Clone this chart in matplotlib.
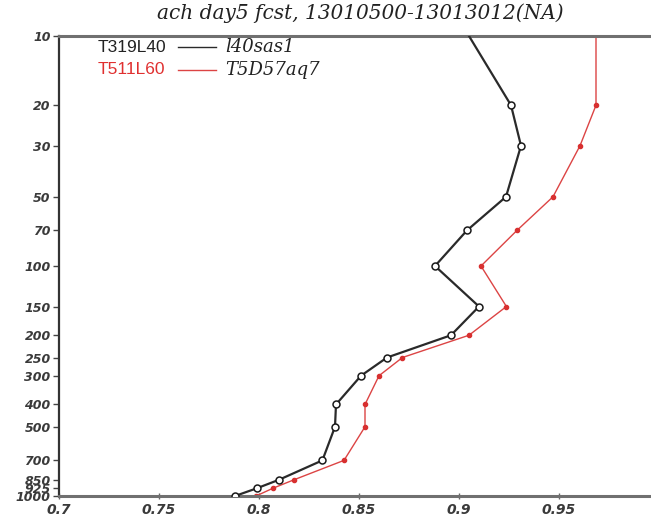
import matplotlib
matplotlib.use("Agg")
import matplotlib.pyplot as plt
from matplotlib.lines import Line2D

# pressure levels (hPa)
levels = [10, 20, 30, 50, 70, 100, 150, 200, 250, 300, 400, 500, 700, 850, 925, 1000]

# anomaly correlation, day 5 forecast
acc_l40sas1 = [0.905, 0.926, 0.931, 0.9235, 0.904, 0.888, 0.910, 0.896,
               0.864, 0.851, 0.8385, 0.838, 0.8317, 0.810, 0.799, 0.788]
acc_t5d57aq7 = [0.9685, 0.9685, 0.9605, 0.947, 0.929, 0.911, 0.9237, 0.905,
                0.8717, 0.860, 0.853, 0.853, 0.8425, 0.8175, 0.807, 0.7985]

xticks = [0.7, 0.75, 0.8, 0.85, 0.9, 0.95]
xtick_labels = ["0.7", "0.75", "0.8", "0.85", "0.9", "0.95"]

title = "ach day5 fcst, 13010500-13013012(NA)"

fig = plt.figure(figsize=(6.51, 5.19), dpi=100)
ax = fig.add_axes([59 / 651, 23 / 519, 600 / 651, 460 / 519])

# no marker at the top level, it sits on the frame
ax.plot(acc_l40sas1, levels, color="#2a2a2a", lw=1.6, marker="o", ms=5,
        mfc="white", mec="#1a1a1a", mew=1.1, markevery=slice(1, None), zorder=3)
ax.plot(acc_t5d57aq7, levels, color="#dc4444", lw=1.0, marker="o", ms=3.0,
        mfc="#d83030", mec="#d83030", markevery=slice(1, None), zorder=2)

ax.set_yscale("log")
ax.set_ylim(1000, 10)
ax.set_xlim(0.7, 1.0)
ax.set_yticks(levels)
ax.set_yticklabels([str(p) for p in levels])
ax.minorticks_off()
ax.set_xticks(xticks)
ax.set_xticklabels(xtick_labels)

for lab in ax.get_yticklabels() + ax.get_xticklabels():
    lab.set_fontstyle("oblique")
    lab.set_fontweight("bold")
    lab.set_color("#3a3a3a")
ax.tick_params(axis="y", labelsize=9, length=4, width=1, color="#444444", pad=2)
ax.tick_params(axis="x", labelsize=10, length=4, width=1, color="#666666",
               direction="inout", pad=3)

ax.spines["right"].set_visible(False)
ax.spines["left"].set_color("#333333")
ax.spines["left"].set_linewidth(1.6)
ax.spines["top"].set_color("#707070")
ax.spines["top"].set_linewidth(2.2)
ax.spines["bottom"].set_color("#707070")
ax.spines["bottom"].set_linewidth(2.2)

# legend drawn by hand: model name, line sample, experiment name
fig.text(98 / 651, 1 - 47 / 519, "T319L40", fontsize=12.5, color="#222222",
         family="Liberation Sans", va="center")
fig.text(98 / 651, 1 - 70 / 519, "T511L60", fontsize=12.5, color="#e03030",
         family="Liberation Sans", va="center")
fig.add_artist(Line2D([178 / 651, 216 / 651], [1 - 47 / 519, 1 - 47 / 519],
                      color="#2a2a2a", lw=1.0, transform=fig.transFigure))
fig.add_artist(Line2D([178 / 651, 216 / 651], [1 - 70 / 519, 1 - 70 / 519],
                      color="#dc4444", lw=1.0, transform=fig.transFigure))
fig.text(225 / 651, 1 - 47 / 519, "l40sas1", fontsize=13, color="#222222",
         family="DejaVu Serif", style="italic", va="center")
fig.text(225 / 651, 1 - 70 / 519, "T5D57aq7", fontsize=13, color="#222222",
         family="DejaVu Serif", style="italic", va="center")

fig.text(360 / 651, 1 - 13 / 519, title, fontsize=14.5, color="#222222",
         family="DejaVu Serif", style="italic", ha="center", va="center")

fig.savefig("out.png", dpi=100)
